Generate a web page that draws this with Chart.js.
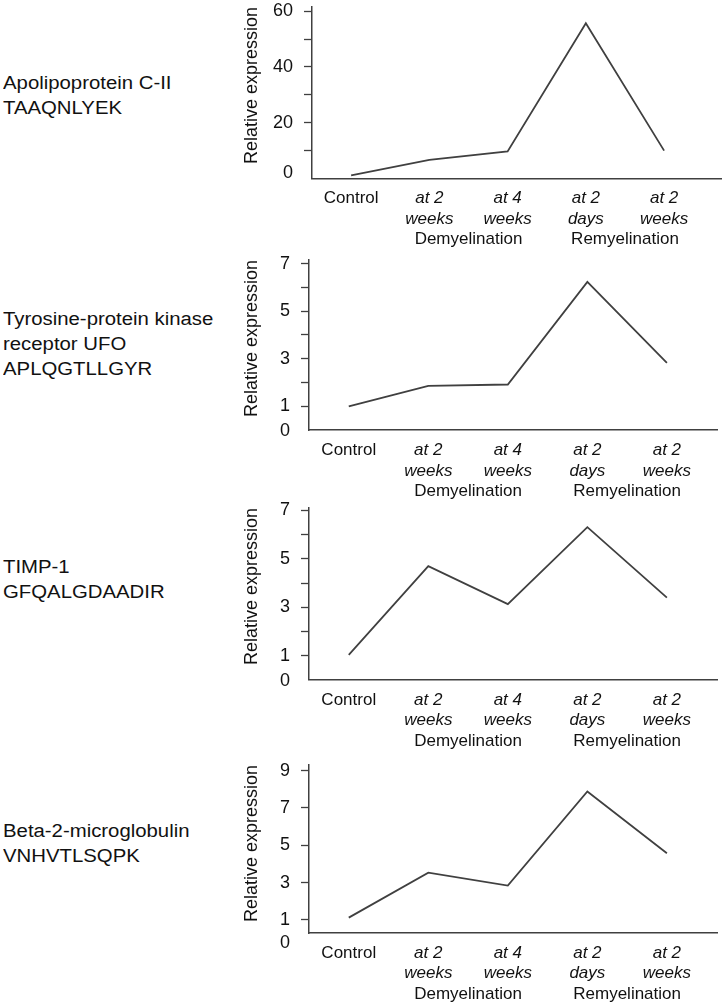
<!DOCTYPE html>
<html>
<head>
<meta charset="utf-8">
<script src="https://cdn.jsdelivr.net/npm/chart.js@4"></script>
<style>
  html, body { margin: 0; padding: 0; background: #fff; }
  body { width: 722px; height: 1008px; position: relative; overflow: hidden; }
  .name {
    position: absolute; left: 3px;
    font-family: "Liberation Sans", Arial, sans-serif;
    font-size: 18px; line-height: 25px; color: #111;
    transform: scaleX(1.13); transform-origin: left top;
    white-space: nowrap;
  }
  .panel { position: absolute; left: 0; }
</style>
</head>
<body>
<div class="name" style="top:71px">Apolipoprotein C-II<br>TAAQNLYEK</div>
<div class="name" style="top:307px">Tyrosine-protein kinase<br>receptor UFO<br>APLQGTLLGYR</div>
<div class="name" style="top:555px">TIMP-1<br>GFQALGDAADIR</div>
<div class="name" style="top:819px">Beta-2-microglobulin<br>VNHVTLSQPK</div>

<canvas id="c1" class="panel"></canvas>
<canvas id="c2" class="panel"></canvas>
<canvas id="c3" class="panel"></canvas>
<canvas id="c4" class="panel"></canvas>

<script>
// categories on the x axis
const categories = ["Control", ["at 2", "weeks"], ["at 4", "weeks"], ["at 2", "days"], ["at 2", "weeks"]];
const groups = ["Demyelination", "Remyelination"];
const groupMembers = [[1, 2], [3, 4]];

// relative expression
const apoc2 = [1.1, 6.7, 9.7, 55.7, 10.0];
const axl = [1.0, 1.86, 1.92, 6.23, 2.83];
const timp1 = [1.03, 4.7, 3.13, 6.31, 3.4];
const b2m = [1.12, 3.53, 2.84, 7.88, 4.57];

// y tick marks and which of them carry a label
const apoc2Ticks = [10, 20, 30, 40, 50, 60];
const apoc2Labels = [20, 40, 60];
const axlTicks = [1, 2, 3, 4, 5, 6, 7];
const axlLabels = [1, 3, 5, 7];
const timp1Ticks = [1, 2, 3, 4, 5, 6, 7];
const timp1Labels = [1, 3, 5, 7];
const b2mTicks = [1, 3, 5, 7, 9];
const b2mLabels = [1, 3, 5, 7, 9];

const FONT = "'Liberation Sans', Arial, sans-serif";
const INK = "#111";
const LINE = "#404040";
const LH = 20.4;
Chart.defaults.font.family = FONT;
Chart.defaults.font.size = 17;
Chart.defaults.color = INK;

// "0" under the axis and group names under the tick labels
const extraText = {
  id: "extraText",
  afterDraw(chart, args, opts) {
    const ctx = chart.ctx;
    const x = chart.scales.x, y = chart.scales.y;
    ctx.save();
    ctx.fillStyle = INK;
    ctx.font = "18px " + FONT;
    ctx.textAlign = "right";
    ctx.textBaseline = "middle";
    ctx.fillText("0", y.right - 8 - 11, chart.chartArea.bottom + opts.zeroDy);
    ctx.font = "17px " + FONT;
    ctx.textAlign = "center";
    groups.forEach((g, i) => {
      const m = groupMembers[i];
      const cx = (x.getPixelForValue(m[0]) + x.getPixelForValue(m[1])) / 2;
      ctx.fillText(g, cx, chart.chartArea.bottom + 10 + LH * 2.5);
    });
    ctx.restore();
  }
};

function makePanel(id, values, ticks, labels, p) {
  const padTop = 12, xH = 75;
  const canvas = document.getElementById(id);
  const top = p.chartTop - padTop;
  canvas.style.top = top + "px";
  canvas.width = 722;
  canvas.height = Math.round(p.bottom - p.chartTop + padTop + xH);

  new Chart(canvas.getContext("2d"), {
    type: "line",
    data: {
      datasets: [{
        data: values.map((v, i) => ({ x: i, y: v })),
        borderColor: LINE,
        borderWidth: 1.8,
        pointRadius: 0,
        tension: 0,
        fill: false
      }]
    },
    options: {
      responsive: false,
      animation: false,
      events: [],
      layout: { padding: { top: padTop, left: 0, right: p.right, bottom: canvas.height - padTop - (p.bottom - p.chartTop) - xH } },
      plugins: { legend: { display: false }, tooltip: { enabled: false }, extraText: { zeroDy: p.zeroDy } },
      scales: {
        x: {
          type: "linear",
          min: -0.5,
          max: p.xMax,
          afterBuildTicks: (s) => { s.ticks = categories.map((c, i) => ({ value: i })); },
          afterFit: (s) => { s.height = xH; s.paddingLeft = 0; s.paddingRight = 0; },
          ticks: {
            autoSkip: false,
            maxRotation: 0,
            padding: 10,
            callback: (v) => categories[v],
            font: (ctx) => ({ size: 17, family: FONT, style: ctx.index === 0 ? "normal" : "italic", lineHeight: 1.2 })
          },
          grid: { display: true, drawOnChartArea: false, drawTicks: false },
          border: { color: LINE, width: 1.5 }
        },
        y: {
          min: p.yMin,
          max: p.yMax,
          afterBuildTicks: (s) => { s.ticks = ticks.map((v) => ({ value: v })); },
          afterFit: (s) => { s.width = p.axisX; s.paddingTop = 0; s.paddingBottom = 0; },
          ticks: {
            padding: 11,
            font: { size: 18 },
            callback: (v) => labels.includes(v) ? String(v) : ""
          },
          grid: { display: true, drawOnChartArea: false, drawTicks: true, tickLength: 8, tickColor: LINE, tickWidth: 1.3 },
          border: { color: LINE, width: 1.5 },
          title: {
            display: true,
            text: "Relative expression",
            align: "end",
            color: INK,
            font: { size: 18 },
            padding: { top: 241, bottom: 0 }
          }
        }
      }
    },
    plugins: [extraText]
  });
}

makePanel("c1", apoc2, apoc2Ticks, apoc2Labels,
  { chartTop: 6.5, bottom: 178, yMin: 0, yMax: 61.5, axisX: 312, xMax: 4.74, right: 0, zeroDy: -5 });
makePanel("c2", axl, axlTicks, axlLabels,
  { chartTop: 259.8, bottom: 430, yMin: 0, yMax: 7.15, axisX: 309, xMax: 4.63, right: 5, zeroDy: 1 });
makePanel("c3", timp1, timp1Ticks, timp1Labels,
  { chartTop: 507.6, bottom: 679.5, yMin: 0, yMax: 7.1, axisX: 309, xMax: 4.63, right: 5, zeroDy: 1 });
makePanel("c4", b2m, b2mTicks, b2mLabels,
  { chartTop: 765.2, bottom: 933.3, yMin: 0.29, yMax: 9.3, axisX: 309, xMax: 4.63, right: 5, zeroDy: 10 });
</script>
</body>
</html>
